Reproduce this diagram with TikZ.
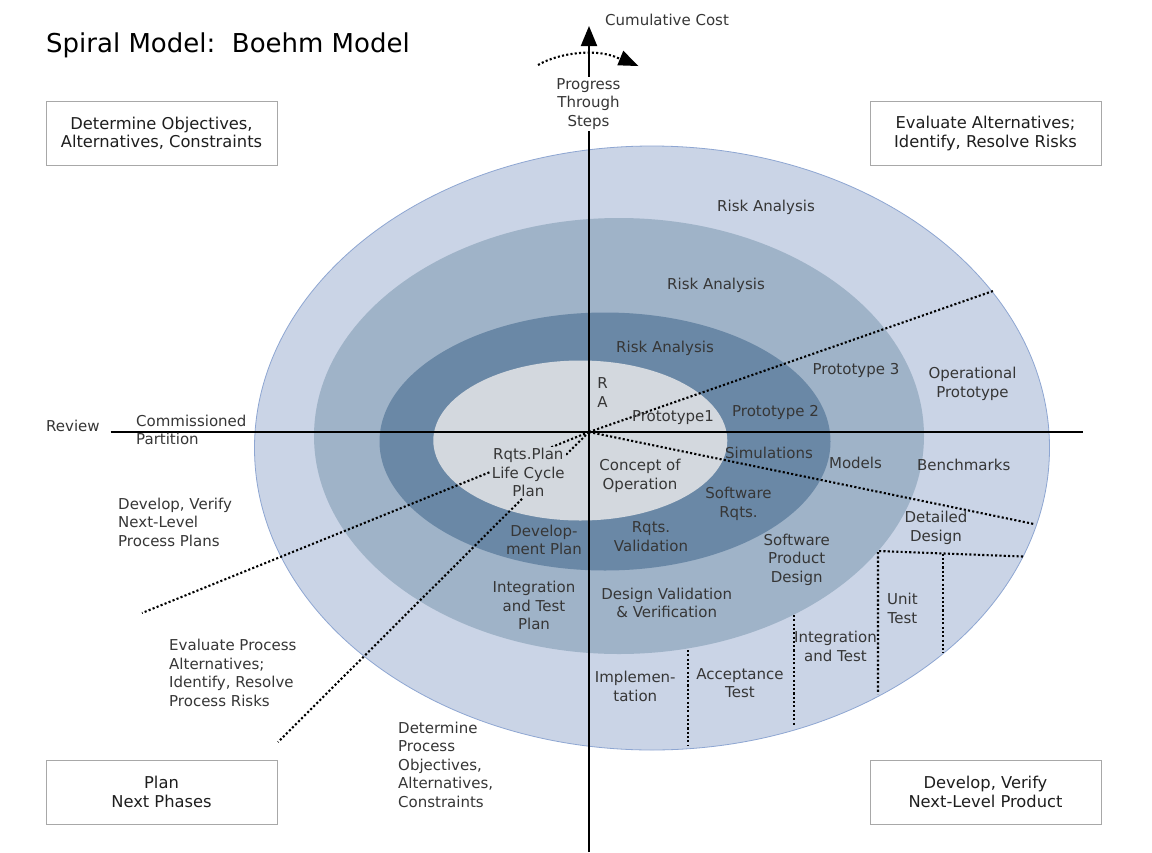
\documentclass[tikz,border=0pt]{standalone}
\usepackage{fontspec}
\setmainfont{DejaVu Sans}
\usetikzlibrary{arrows.meta}
\definecolor{cA}{HTML}{CAD4E6}
\definecolor{cAb}{HTML}{8EA6D2}
\definecolor{cB}{HTML}{9FB3C8}
\definecolor{cC}{HTML}{6A88A6}
\definecolor{cD}{HTML}{D3D8DE}
\definecolor{txtgray}{HTML}{363636}
\definecolor{txtdark}{HTML}{1E1E1E}
\definecolor{boxgray}{HTML}{A8A8A8}
\tikzset{
  lbl/.style={text=txtgray, font=\fontsize{15}{18.5}\selectfont, align=center, inner sep=0pt},
  lbll/.style={lbl, align=left, anchor=west},
  boxnode/.style={draw=boxgray, line width=1pt, text=txtdark, font=\fontsize{16.3}{18.5}\selectfont, align=center, minimum width=231pt, minimum height=64pt, inner sep=0pt},
  axisline/.style={line width=2pt, black},
  dotline/.style={line width=2.1pt, dash pattern=on 2.1pt off 2.2pt, black},
}
\begin{document}
\begin{tikzpicture}[x=1pt,y=-1pt]
\useasboundingbox (0,0) rectangle (1152,852);
\fill[white] (0,0) rectangle (1152,852);
% layered ellipses
\filldraw[fill=cA, draw=cAb, line width=0.8pt] (652,448) ellipse [x radius=397.5, y radius=302];
\fill[cB] (619,436) ellipse [x radius=305, y radius=218];
\fill[cC] (605,441.5) ellipse [x radius=225.5, y radius=129];
\fill[cD] (580.3,440.5) ellipse [x radius=147, y radius=80];
% coordinates
\coordinate (O) at (589,432);
\coordinate (axL) at (110.5,432);
\coordinate (axR) at (1083,432);
\coordinate (axB) at (589,852);
\coordinate (axT) at (589,26);
\coordinate (d1) at (993,291);
\coordinate (d2) at (1034,524);
\coordinate (d3) at (142,613);
\coordinate (d4) at (278,742);
\coordinate (h1) at (878,551);
\coordinate (h2) at (1023,556.5);
\coordinate (h1b) at (878,694);
\coordinate (v2a) at (943,553.5);
\coordinate (v2b) at (943,653);
\coordinate (v3a) at (794,615);
\coordinate (v3b) at (794,726);
\coordinate (v4a) at (688,650);
\coordinate (v4b) at (688,746);
\coordinate (arcS) at (538,65);
\coordinate (arcE) at (620,59);
% axes
\draw[axisline] (axL) -- (axR);
\draw[axisline, -{Triangle[width=16pt,length=20pt]}] (axB) -- (axT);
% dotted radial lines
\draw[dotline] (O) -- (d1);
\draw[dotline] (O) -- (d2);
\draw[dotline] (O) -- (d3);
\draw[dotline] (O) -- (d4);
% product phase dividers
\draw[dotline] (h2) -- (h1) -- (h1b);
\draw[dotline] (v2a) -- (v2b);
\draw[dotline] (v3a) -- (v3b);
\draw[dotline] (v4a) -- (v4b);
% top dotted arc with arrowhead
\draw[dotline] (arcS) .. controls (560,52) and (600,48) .. (arcE);
\fill[black] (623.3,50.7) -- (638.3,66) -- (617.3,65.3) -- cycle;
% title
\node[anchor=west, inner sep=0pt, text=black, font=\fontsize{26}{30}\selectfont] (title) at (46,45) {Spiral Model:\ \ Boehm Model};
% quadrant boxes
\node[boxnode] (bTL) at (161.5,133.5) {Determine Objectives,\\Alternatives, Constraints};
\node[boxnode] (bTR) at (985.5,133.5) {Evaluate Alternatives;\\Identify, Resolve Risks};
\node[boxnode] (bBL) at (161.5,792) {Plan\\Next Phases};
\node[boxnode] (bBR) at (985.5,792) {Develop, Verify\\Next-Level Product};
% axis labels
\node[lbll] (cc) at (605,19.5) {Cumulative Cost};
\node[lbl, fill=white, inner sep=1pt] (pts) at (588.5,104) {Progress\\Through\\Steps};
\node[lbll] (rev) at (46,426) {Review};
\node[lbll] (cp) at (136,430) {Commissioned\\Partition};
% spiral labels
\node[lbl] (ra1) at (766,207) {Risk Analysis};
\node[lbl] (ra2) at (716,285) {Risk Analysis};
\node[lbl] (ra3) at (665,348) {Risk Analysis};
\node[lbl] (ra) at (602.5,392.5) {R\\A};
\node[lbl] (p1) at (673,418) {Prototype1};
\node[lbl] (p2) at (775.5,412.5) {Prototype 2};
\node[lbl] (p3) at (856,370) {Prototype 3};
\node[lbl] (op) at (972.5,384) {Operational\\Prototype};
\node[lbl] (sim) at (769,452.5) {Simulations};
\node[lbl] (mod) at (855.5,463) {Models};
\node[lbl] (ben) at (963.7,465) {Benchmarks};
\node[lbl] (coo) at (640,476) {Concept of\\Operation};
\node[lbl] (swr) at (738.5,504) {Software\\Rqts.};
\node[lbl, fill=cD, inner sep=1.5pt] (rp) at (528.3,472.5) {Rqts.Plan\\Life Cycle\\Plan};
\node[lbl] (dp) at (544,540) {Develop-\\ment Plan};
\node[lbl] (rv) at (651,536.7) {Rqts.\\Validation};
\node[lbl] (spd) at (796.7,559.5) {Software\\Product\\Design};
\node[lbl] (dd) at (936,527.8) {Detailed\\Design};
\node[lbl] (itp) at (534,605.5) {Integration\\and Test\\Plan};
\node[lbl] (dvv) at (666.7,602.8) {Design Validation\\\& Verification};
\node[lbl] (ut) at (902.5,608.3) {Unit\\Test};
\node[lbl] (it) at (835.5,646.2) {Integration\\and Test};
\node[lbl] (impl) at (635.3,686.2) {Implemen-\\tation};
\node[lbl] (acc) at (740,683.3) {Acceptance\\Test};
% process labels
\node[lbll] (dvp) at (118,522) {Develop, Verify\\Next-Level\\Process Plans};
\node[lbll] (epa) at (169,672.7) {Evaluate Process\\Alternatives;\\Identify, Resolve\\Process Risks};
\node[lbll] (dpo) at (398,764.5) {Determine\\Process\\Objectives,\\Alternatives,\\Constraints};
\end{tikzpicture}
\end{document}
